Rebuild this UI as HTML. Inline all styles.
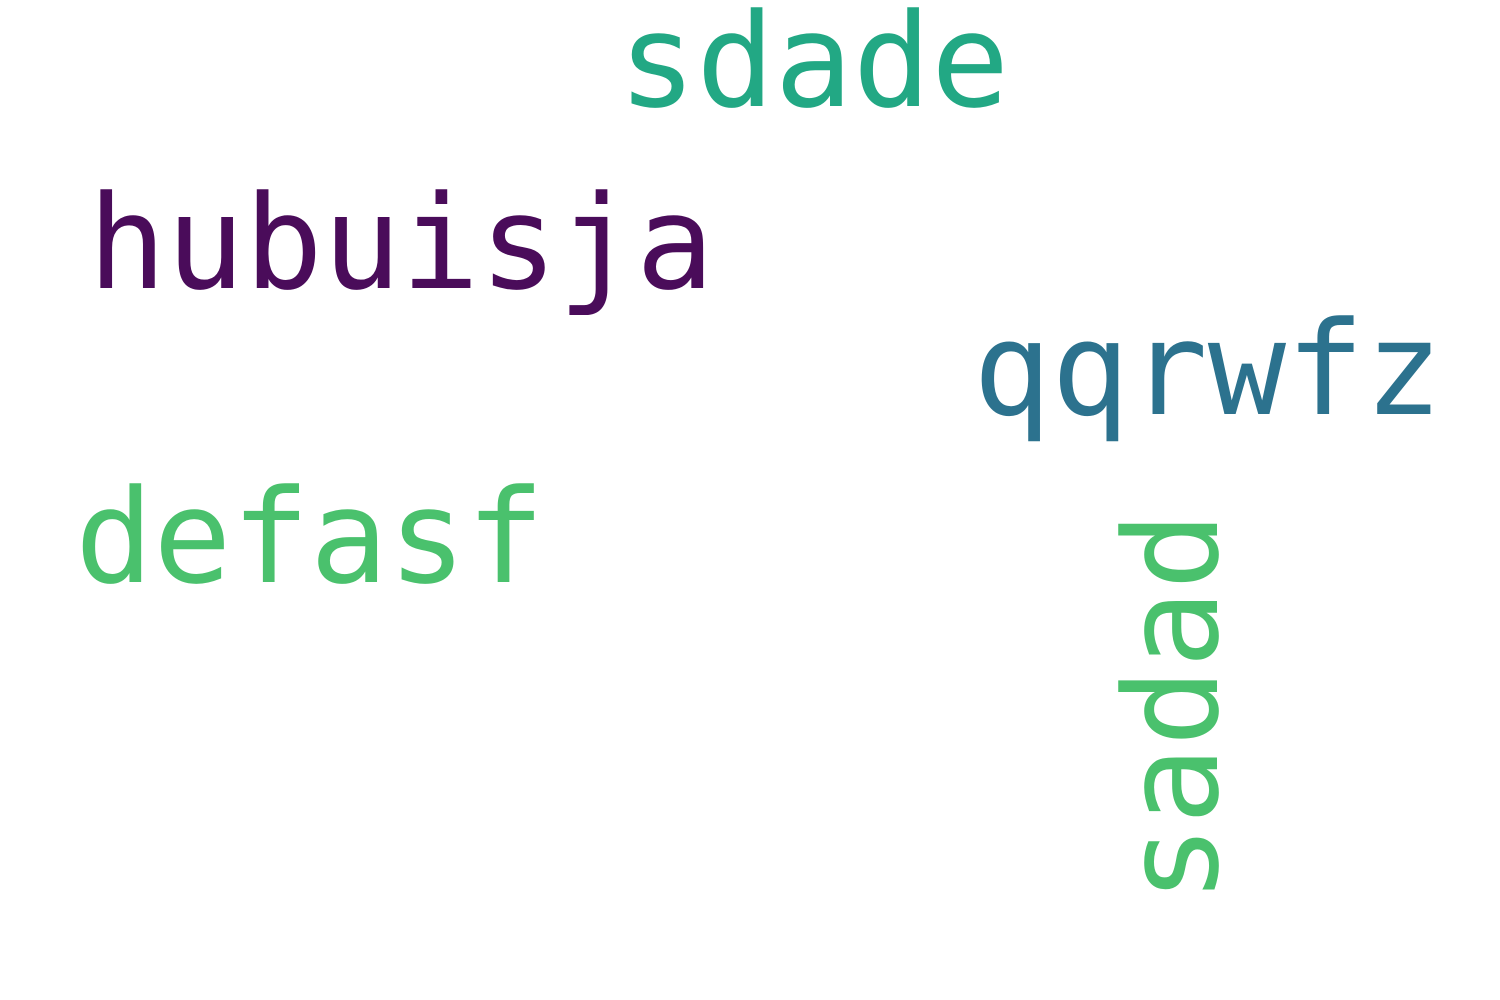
<!DOCTYPE html>
<html><head><meta charset="utf-8"><style>
html,body{margin:0;padding:0;background:#fff;width:1500px;height:1000px;overflow:hidden}
svg text{font-family:"DejaVu Sans Mono","Liberation Mono",monospace;font-size:130px}
</style></head><body>
<svg width="1500" height="1000" xmlns="http://www.w3.org/2000/svg">
<rect width="1500" height="1000" fill="#fff"/>
<text x="618" y="106" fill="#22a884">sdade</text>
<text x="88" y="288" fill="#4a0c5a">hubuisja</text>
<text x="973" y="414" fill="#2c728e">qqrwfz</text>
<text x="75" y="582" fill="#4ac16d">defasf</text>
<text transform="translate(1217,903) rotate(-90)" fill="#4ac16d">sadad</text>
</svg>
</body></html>
